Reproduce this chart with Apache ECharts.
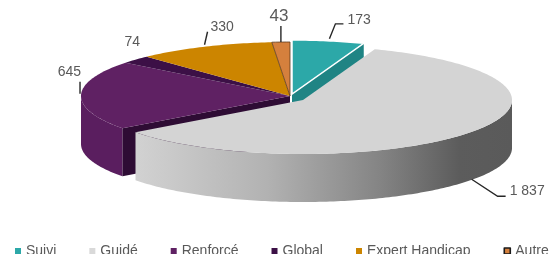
<!DOCTYPE html>
<html>
<head>
<meta charset="utf-8">
<script src="https://cdn.jsdelivr.net/npm/echarts@6/dist/echarts.min.js"></script>
<style>
  html, body { margin: 0; padding: 0; background: #fff; }
  #chart { width: 558px; height: 254px; }
</style>
</head>
<body>
<div id="chart"></div>
<script>
  var categories = ['Suivi', 'Guidé', 'Renforcé', 'Global', 'Expert Handicap', 'Autre'];
  var values = [173, 1837, 645, 74, 330, 43];
  var valueLabels = ['173', '1 837', '645', '74', '330', '43'];

  var topColors = ['#2ca8a8', '#d4d4d4', '#5f2163', '#3c1046', '#cc8500', '#d5803d'];
  var wallColors = ['#1f8383', '#a0a0a0', '#5a1e5f', '#33103b', '#a66c00', '#a8622e'];
  var faceColors = ['#1f8484', '#9a9a9a', '#2e0c34', '#260a2d', '#8f5e00', '#9b5a2a'];

  // 3d pie geometry, in pixels
  var cx = 290, cy = 96, rx = 209, ry = 54, depth = 48;
  var pull = [[2, -2], [13, 4], [0, 0], [0, 0], [0, 0], [0, 0]];

  // leader lines and label spots, relative to the rim point in the middle of each slice
  var leaders = [
    [[1, -2], [7, -17], [15, -17]],
    [[1, -1], [27, 16], [35, 16]],
    [[-1, -1.5], [-1, -13.5]],
    [],
    [[0, -2], [3, -15]],
    [[0, 0], [0, -16]]
  ];
  var labelSpots = [[19, -21, 'left'], [39, 11, 'left'], [0, -23, 'right'], [-3.5, -17, 'center'], [6, -20, 'left'], [-2, -26, 'center']];
  var labelSizes = [14, 14, 14, 14, 14, 17];

  var total = values.reduce(function (a, b) { return a + b; }, 0);
  var starts = [];
  var acc = 0;
  values.forEach(function (v) { starts.push(acc / total * 360); acc += v; });

  function isPulled(i) {
    return pull[i][0] !== 0 || pull[i][1] !== 0;
  }
  function rim(deg, i, down) {
    var t = deg * Math.PI / 180;
    return [cx + pull[i][0] + rx * Math.sin(t), cy + pull[i][1] - ry * Math.cos(t) + (down ? depth : 0)];
  }
  function arc(a0, a1, i, down) {
    var pts = [];
    var n = Math.max(2, Math.ceil(Math.abs(a1 - a0)));
    for (var k = 0; k <= n; k++) {
      pts.push(rim(a0 + (a1 - a0) * k / n, i, down));
    }
    return pts;
  }

  var guideWall = new echarts.graphic.LinearGradient(0, 0, 1, 0, [
    { offset: 0, color: '#d2d2d2' },
    { offset: 0.35, color: '#b2b2b2' },
    { offset: 0.65, color: '#848484' },
    { offset: 0.86, color: '#5c5c5c' },
    { offset: 1, color: '#5a5a5a' }
  ]);

  function renderSlice(params, api) {
    var i = params.dataIndex;
    var a0 = starts[i];
    var a1 = a0 + api.value(0) / total * 360;
    var big = Math.abs(pull[i][0]) + Math.abs(pull[i][1]) > 6;
    var base = big ? 2 : 0;
    var apex = [cx + pull[i][0], cy + pull[i][1]];
    var apexDown = [apex[0], apex[1] + depth];
    var children = [];

    // outer wall, front half only
    var w0 = Math.max(a0, 90), w1 = Math.min(a1, 270);
    if (w1 > w0) {
      children.push({
        type: 'polygon', z2: base + 1,
        shape: { points: arc(w0, w1, i, false).concat(arc(w1, w0, i, true)) },
        style: { fill: i === 1 ? guideWall : wallColors[i] }
      });
    }

    // cut faces that show next to a pulled slice
    var prev = (i + values.length - 1) % values.length;
    var next = (i + 1) % values.length;
    function face(a) {
      return {
        type: 'polygon', z2: base + 1,
        shape: { points: [apex, rim(a, i, false), rim(a, i, true), apexDown] },
        style: { fill: faceColors[i] }
      };
    }
    if (Math.sin(a0 * Math.PI / 180) < -0.01 && (isPulled(i) || isPulled(prev))) children.push(face(a0));
    if (Math.sin(a1 * Math.PI / 180) > 0.01 && (isPulled(i) || isPulled(next))) children.push(face(a1));

    // top
    var topStyle = { fill: topColors[i] };
    if (i === 0) { topStyle.stroke = '#ffffff'; topStyle.lineWidth = 1.5; }
    if (i === 5) { topStyle.stroke = '#5b3a1e'; topStyle.lineWidth = 0.8; }
    children.push({
      type: 'polygon', z2: base + 2,
      shape: { points: [apex].concat(arc(a0, a1, i, false)) },
      style: topStyle
    });

    // label with leader
    var mid = (a0 + a1) / 2;
    var front = -Math.cos(mid * Math.PI / 180) > 0.3;
    var anchor = rim(mid, i, front);
    if (leaders[i].length) {
      children.push({
        type: 'polyline', z2: 10,
        shape: { points: leaders[i].map(function (p) { return [anchor[0] + p[0], anchor[1] + p[1]]; }) },
        style: { stroke: '#262626', lineWidth: 1.4, fill: null }
      });
    }
    var spot = labelSpots[i];
    children.push({
      type: 'text', z2: 10,
      x: anchor[0] + spot[0], y: anchor[1] + spot[1],
      style: {
        text: valueLabels[i],
        fill: '#595959',
        fontSize: labelSizes[i],
        fontFamily: '"Liberation Sans", Arial, sans-serif',
        align: spot[2],
        verticalAlign: 'middle'
      }
    });

    return { type: 'group', children: children };
  }

  var chart = echarts.init(document.getElementById('chart'), null, { renderer: 'canvas' });

  var legendData = categories.map(function (c, i) {
    var item = { name: c };
    if (i === 5) item.itemStyle = { borderColor: '#1a1a1a', borderWidth: 1.6 };
    return item;
  });

  var option = {
    animation: false,
    color: topColors,
    legend: {
      data: legendData,
      left: 10,
      top: 239,
      icon: 'rect',
      itemWidth: 6,
      itemHeight: 6,
      itemGap: 33,
      textStyle: { color: '#595959', fontSize: 14, fontFamily: '"Liberation Sans", Arial, sans-serif' }
    },
    series: [
      {
        type: 'custom',
        name: '3d',
        coordinateSystem: 'none',
        renderItem: renderSlice,
        data: values.map(function (v, i) { return { name: categories[i], value: v }; })
      },
      {
        // only feeds the legend
        type: 'pie',
        radius: [0, 0],
        center: [-50, -50],
        silent: true,
        label: { show: false },
        labelLine: { show: false },
        data: values.map(function (v, i) {
          return { name: categories[i], value: v, itemStyle: { color: i === 1 ? '#d9d9d9' : topColors[i] } };
        })
      }
    ]
  };
  chart.setOption(option);
</script>
</body>
</html>
